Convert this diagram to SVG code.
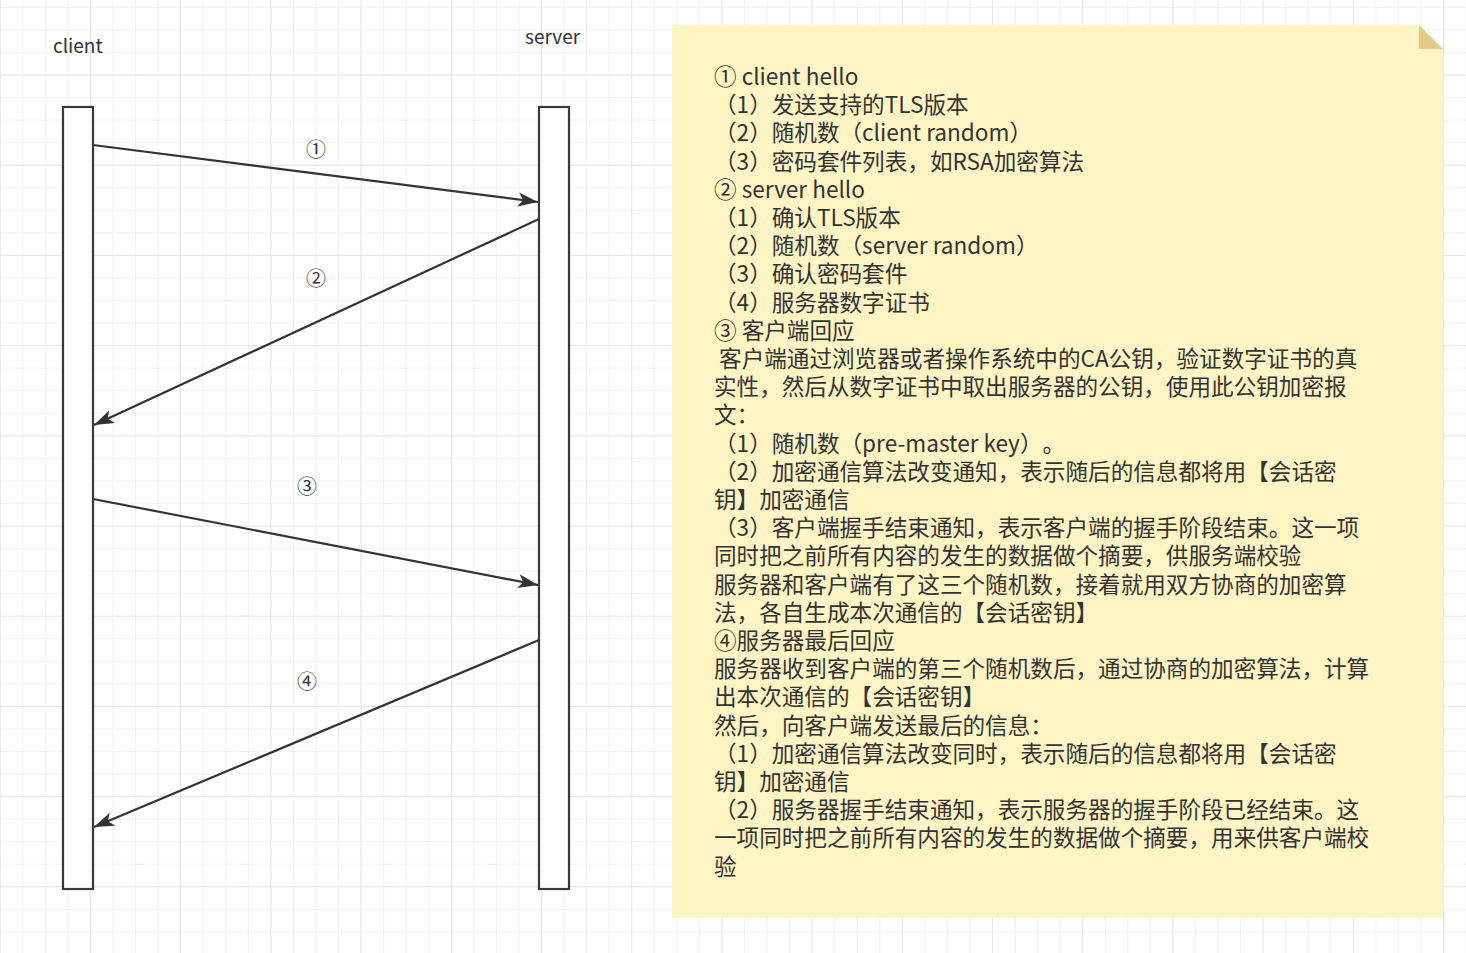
<svg xmlns="http://www.w3.org/2000/svg" width="1466" height="953" viewBox="0 0 1466 953">
<style>
.lbl{font-family:"Noto Sans CJK SC","Noto Sans",sans-serif;fill:#333333;}
.life{fill:#ffffff;stroke:#36393d;stroke-width:2.2;}
.msg{fill:none;stroke:#333333;stroke-width:2.2;}
.note{font-family:"Noto Sans CJK SC","Noto Sans",sans-serif;font-size:22.6px;fill:#333333;text-spacing-trim:space-all;}
</style>
<defs>
<pattern id="gMinor" patternUnits="userSpaceOnUse" x="-0.2" y="6.85" width="22.55" height="22.55">
<rect x="0" y="0" width="1" height="22.55" fill="#f0f0f0"/>
<rect x="0" y="0" width="22.55" height="1" fill="#f0f0f0"/>
</pattern>
<pattern id="gMajor" patternUnits="userSpaceOnUse" x="-0.2" y="-15.7" width="90.2" height="90.2">
<rect x="0" y="0" width="1" height="90.2" fill="#e6e6e6"/>
<rect x="0" y="0" width="90.2" height="1" fill="#e6e6e6"/>
</pattern>
<marker id="arr" markerUnits="userSpaceOnUse" markerWidth="22" markerHeight="16" refX="20" refY="7" orient="auto" viewBox="0 0 22 14">
<path d="M0,0 L20,7 L0,14 L5,7 z" fill="#333333"/>
</marker>
</defs>
<rect x="0" y="0" width="1466" height="953" fill="#ffffff"/>
<rect x="0" y="0" width="1466" height="953" fill="url(#gMinor)"/>
<rect x="0" y="0" width="1466" height="953" fill="url(#gMajor)"/>

<g id="client">
<rect class="life" x="63" y="107" width="30" height="782"/>
<text class="lbl" x="53" y="53" font-size="19">client</text>
</g>
<g id="server">
<rect class="life" x="539" y="107" width="30" height="782"/>
<text class="lbl" x="525" y="44" font-size="19">server</text>
</g>

<g id="connectors">
<line class="msg" x1="93" y1="145" x2="538" y2="202" marker-end="url(#arr)"/>
<line class="msg" x1="539" y1="219" x2="94" y2="425" marker-end="url(#arr)"/>
<line class="msg" x1="93" y1="499" x2="538" y2="585" marker-end="url(#arr)"/>
<line class="msg" x1="539" y1="640" x2="94" y2="827" marker-end="url(#arr)"/>
<text class="lbl" x="316" y="157" font-size="20" text-anchor="middle">①</text>
<text class="lbl" x="316" y="286" font-size="20" text-anchor="middle">②</text>
<text class="lbl" x="307" y="494" font-size="20" text-anchor="middle">③</text>
<text class="lbl" x="307" y="689" font-size="20" text-anchor="middle">④</text>
</g>

<g id="note">
<path d="M672,25 H1419 L1443,49 V918 H672 Z" fill="#fff4c3"/>
<path d="M1419,25 L1443,49 H1419 Z" fill="#e3cc88"/>
<text class="note" xml:space="preserve">
<tspan x="714" y="85">① client hello</tspan>
<tspan x="714" y="113.2">（1）发送支持的TLS版本</tspan>
<tspan x="714" y="141.4">（2）随机数（client random）</tspan>
<tspan x="714" y="169.6">（3）密码套件列表，如RSA加密算法</tspan>
<tspan x="714" y="197.8">② server hello</tspan>
<tspan x="714" y="226">（1）确认TLS版本</tspan>
<tspan x="714" y="254.2">（2）随机数（server random）</tspan>
<tspan x="714" y="282.4">（3）确认密码套件</tspan>
<tspan x="714" y="310.6">（4）服务器数字证书</tspan>
<tspan x="714" y="338.8">③ 客户端回应</tspan>
<tspan x="714" y="367"> 客户端通过浏览器或者操作系统中的CA公钥，验证数字证书的真</tspan>
<tspan x="714" y="395.2">实性，然后从数字证书中取出服务器的公钥，使用此公钥加密报</tspan>
<tspan x="714" y="423.4">文：</tspan>
<tspan x="714" y="451.6">（1）随机数（pre-master key）。</tspan>
<tspan x="714" y="479.8">（2）加密通信算法改变通知，表示随后的信息都将用【会话密</tspan>
<tspan x="714" y="508">钥】加密通信</tspan>
<tspan x="714" y="536.2">（3）客户端握手结束通知，表示客户端的握手阶段结束。这一项</tspan>
<tspan x="714" y="564.4">同时把之前所有内容的发生的数据做个摘要，供服务端校验</tspan>
<tspan x="714" y="592.6">服务器和客户端有了这三个随机数，接着就用双方协商的加密算</tspan>
<tspan x="714" y="620.8">法，各自生成本次通信的【会话密钥】</tspan>
<tspan x="714" y="649">④服务器最后回应</tspan>
<tspan x="714" y="677.2">服务器收到客户端的第三个随机数后，通过协商的加密算法，计算</tspan>
<tspan x="714" y="705.4">出本次通信的【会话密钥】</tspan>
<tspan x="714" y="733.6">然后，向客户端发送最后的信息：</tspan>
<tspan x="714" y="761.8">（1）加密通信算法改变同时，表示随后的信息都将用【会话密</tspan>
<tspan x="714" y="790">钥】加密通信</tspan>
<tspan x="714" y="818.2">（2）服务器握手结束通知，表示服务器的握手阶段已经结束。这</tspan>
<tspan x="714" y="846.4">一项同时把之前所有内容的发生的数据做个摘要，用来供客户端校</tspan>
<tspan x="714" y="874.6">验</tspan>
</text>
</g>
</svg>
